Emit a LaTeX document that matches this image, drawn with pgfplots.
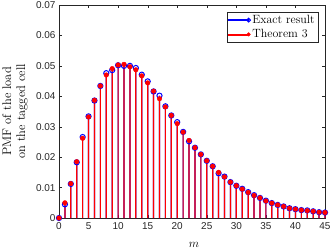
\documentclass[border=0pt]{standalone}
\usepackage{pgfplots}
\pgfplotsset{compat=1.18}
\usepackage{pgfplotstable}
\usepackage{fontspec}
\newfontfamily\ticksf{Liberation Sans}
\definecolor{axgray}{rgb}{0.15,0.15,0.15}
\definecolor{mblue}{rgb}{0,0,1}
\definecolor{mred}{rgb}{1,0,0}

\pgfplotstableread{
m exact thm
0 0 0
1 0.0045 0.0050
2 0.0112 0.0113
3 0.0183 0.0185
4 0.0266 0.0262
5 0.0334 0.0332
6 0.0386 0.0387
7 0.0434 0.0434
8 0.0476 0.0470
9 0.0486 0.0491
10 0.0502 0.0503
11 0.0500 0.0505
12 0.0500 0.0497
13 0.0493 0.0487
14 0.0471 0.0467
15 0.0449 0.0444
16 0.0416 0.0417
17 0.0402 0.0392
18 0.0367 0.0365
19 0.0337 0.0337
20 0.0315 0.0310
21 0.0283 0.0282
22 0.0252 0.0255
23 0.0231 0.0231
24 0.0209 0.0209
25 0.0188 0.0188
26 0.0170 0.0170
27 0.0147 0.0150
28 0.0136 0.0135
29 0.0118 0.0118
30 0.0106 0.0106
31 0.0096 0.0095
32 0.0085 0.0084
33 0.0075 0.0074
34 0.0066 0.0066
35 0.0057 0.0056
36 0.0049 0.0049
37 0.0043 0.0043
38 0.0038 0.0038
39 0.0032 0.0032
40 0.0029 0.0029
41 0.0026 0.0026
42 0.0025 0.0024
43 0.0022 0.0022
44 0.0019 0.0019
45 0.0018 0.0018
}\data

\begin{document}
\begin{tikzpicture}
\begin{axis}[
  scale only axis, width=266bp, height=213bp,
  xmin=0, xmax=45, ymin=0, ymax=0.07,
  xtick={0,5,10,15,20,25,30,35,40,45},
  ytick={0,0.01,0.02,0.03,0.04,0.05,0.06,0.07},
  tick align=inside, major tick length=3bp,
  axis line style={axgray}, tick style={axgray},
  tick label style={font=\ticksf\fontsize{10}{12}\selectfont, text=axgray},
  xticklabel style={yshift=-1bp},
  /pgf/number format/assume math mode=true,
  yticklabel style={/pgf/number format/fixed,/pgf/number format/precision=2},
  scaled y ticks=false,
  xlabel={$m$},
  xlabel style={font=\fontsize{12.5}{14}\selectfont, at={([xshift=2bp,yshift=-29bp]axis description cs:0.5,0)}, anchor=base},
  ylabel={PMF of the load\\on the tagged cell},
  ylabel style={align=center, font=\fontsize{12.5}{14}\selectfont, at={([xshift=-44bp]axis description cs:0,0.5)}, anchor=center},
  legend style={at={([xshift=-7bp,yshift=-7bp]axis description cs:1,1)}, anchor=north east, draw=axgray, font=\fontsize{12}{14}\selectfont, inner sep=1.5bp, row sep=1.5bp, nodes={inner sep=1.5bp}},
  legend cell align=left,
  clip=false,
]
\coordinate (ll) at (rel axis cs:0,0);
\coordinate (ur) at (rel axis cs:1,1);
% blue stems + circles
\addplot[ybar, bar shift=0pt, bar width=1.2bp, fill=mblue, draw=none, forget plot]
  table[x=m, y=exact] {\data};
\addplot[only marks, mark=o, mark size=2.6bp, mark options={solid, line width=1bp, draw=mblue, fill=none},
  legend image code/.code={\fill[mblue] (0bp,-0.6bp) rectangle (20bp,0.6bp); \draw[mblue, line width=1bp] (20bp,0bp) circle (1.9bp);}]
  table[x=m, y=exact] {\data};
\addlegendentry{Exact result}
% red stems + dots
\addplot[ybar, bar shift=0pt, bar width=1.2bp, fill=mred, draw=none, forget plot]
  table[x=m, y=thm] {\data};
\addplot[only marks, mark=*, mark size=2.3bp, mark options={solid, draw=mred, fill=mred},
  legend image code/.code={\fill[mred] (0bp,-0.6bp) rectangle (20bp,0.6bp); \fill[mred] (20bp,0bp) circle (1.8bp);}]
  table[x=m, y=thm] {\data};
\addlegendentry{Theorem 3}
\end{axis}
\pgfresetboundingbox
\path ([shift={(-59bp,-32bp)}]ll) rectangle ([shift={(7bp,5bp)}]ur);
\end{tikzpicture}
\end{document}
